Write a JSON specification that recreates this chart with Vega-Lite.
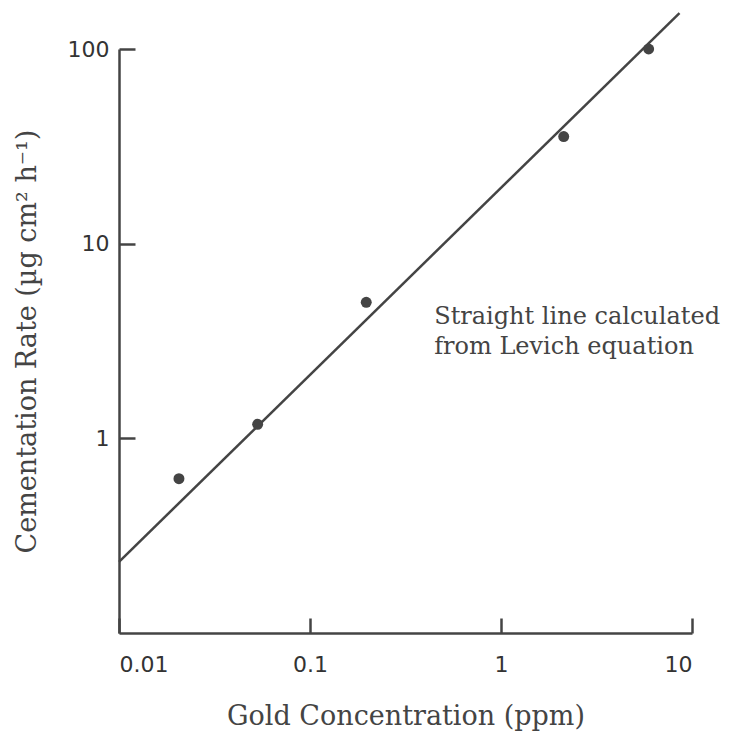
{
  "$schema": "https://vega.github.io/schema/vega-lite/v6.json",
  "width": 573,
  "height": 584,
  "autosize": "none",
  "padding": {"left": 119, "top": 49, "right": 37, "bottom": 122},
  "background": "white",
  "config": {
    "view": {"stroke": null},
    "axis": {
      "grid": false,
      "domainColor": "#444",
      "domainWidth": 2.5,
      "tickColor": "#444",
      "tickWidth": 2.5,
      "labelColor": "#333",
      "titleColor": "#444",
      "labelFont": "DejaVu Sans",
      "labelFontSize": 22,
      "titleFont": "DejaVu Serif",
      "titleFontSize": 27,
      "titleFontWeight": "normal"
    }
  },
  "datasets": {
    "points": [
      {"conc": 0.0206, "rate": 0.62},
      {"conc": 0.0532, "rate": 1.18},
      {"conc": 0.197, "rate": 5.0},
      {"conc": 2.13, "rate": 35.5},
      {"conc": 5.93, "rate": 100}
    ],
    "levich": [
      {"conc": 0.01, "rate": 0.232},
      {"conc": 8.6, "rate": 153}
    ],
    "note": [
      {"conc": 0.447, "rate": 3.87, "text": "Straight line calculated"},
      {"conc": 0.447, "rate": 2.71, "text": "from Levich equation"}
    ]
  },
  "encoding": {
    "x": {
      "field": "conc",
      "type": "quantitative",
      "scale": {"type": "log", "domain": [0.01, 10], "nice": false},
      "axis": {
        "values": [0.01, 0.1, 1, 10],
        "labelExpr": "'' + datum.value",
        "tickSize": -15,
        "labelPadding": 36,
        "title": "Gold Concentration (ppm)",
        "titlePadding": 28
      }
    },
    "y": {
      "field": "rate",
      "type": "quantitative",
      "scale": {"type": "log", "domain": [0.1, 100], "nice": false},
      "axis": {
        "values": [1, 10, 100],
        "labelExpr": "'' + datum.value",
        "tickSize": -16,
        "labelPadding": 26,
        "title": "Cementation Rate (µg cm² h⁻¹)",
        "titlePadding": 26
      }
    }
  },
  "layer": [
    {
      "data": {"name": "levich"},
      "mark": {"type": "line", "color": "#444", "strokeWidth": 2.5, "clip": false}
    },
    {
      "data": {"name": "points"},
      "mark": {"type": "point", "filled": true, "color": "#444", "size": 120, "opacity": 1}
    },
    {
      "data": {"name": "note"},
      "mark": {"type": "text", "align": "left", "baseline": "alphabetic", "font": "DejaVu Serif", "fontSize": 24, "color": "#444"},
      "encoding": {"text": {"field": "text"}}
    }
  ]
}
